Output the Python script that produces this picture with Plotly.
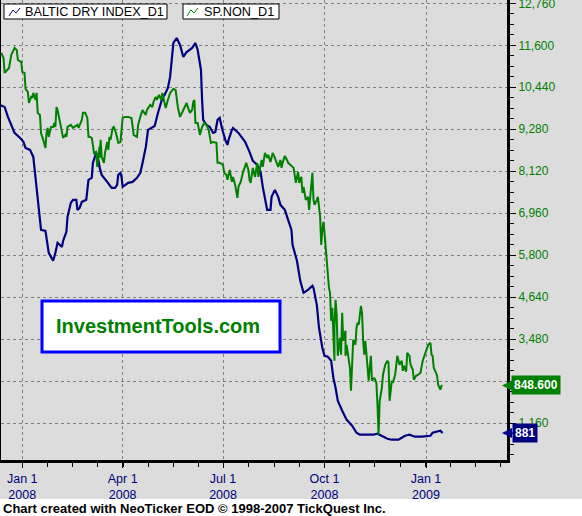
import pandas as pd
import plotly.graph_objects as go

BASE_DATE = "2008-01-01"

# Baltic Dry Index (day offset from BASE_DATE, index value)
bdi_days = [-20, -16, -13, -9, -7, -2, 1, 3, 7, 10, 11, 12, 14, 16, 17, 21, 22, 24, 26, 28,
            30, 32, 36, 37, 40, 41, 44, 46, 49, 50, 52, 54, 58, 60, 63, 64, 67, 69, 70, 72,
            77, 81, 84, 86, 87, 89, 90, 91, 96, 100, 104, 107, 109, 112, 114, 118, 120, 123, 127, 129,
            132, 134, 136, 137, 140, 143, 146, 149, 154, 157, 159, 162, 163, 164, 167, 170, 173, 175, 177, 179,
            181, 184, 186, 187, 190, 191, 196, 202, 206, 209, 213, 216, 218, 220, 222, 225, 226, 229, 232, 234,
            238, 241, 244, 245, 249, 252, 255, 259, 263, 264, 267, 269, 272, 274, 277, 280, 282, 284, 286, 290,
            294, 299, 303, 306, 313, 318, 322, 326, 331, 335, 341, 344, 347, 351, 356, 362, 370, 372, 376, 379,
            381]
bdi_values = [9950, 9896, 9620, 9316, 9178, 9040, 8930, 8764, 8709, 8515, 8239, 7797, 7328, 6858, 6499, 6471, 6278, 5864, 5753, 5643,
              5864, 6140, 6029, 6195, 6444, 6858, 7245, 7328, 7328, 7051, 7107, 7272, 7328, 7880, 7935, 8350, 8626, 8432, 8239, 8018,
              7825, 7659, 7659, 7742, 8018, 8073, 7963, 7687, 7797, 7825, 7935, 8073, 8350, 8791, 9261, 9344, 9371, 9730, 10145, 10228,
              10421, 10725, 11250, 11664, 11802, 11609, 11277, 11415, 11526, 11664, 11471, 10918, 10090, 9537, 9399, 9344, 9178, 9206, 9537, 9592,
              9316, 8985, 8847, 8985, 9261, 9316, 9178, 8930, 8653, 8405, 8294, 8101, 7687, 7328, 7051, 7051, 7410, 7604, 7410, 7190,
              7051, 6775, 6499, 6085, 5643, 5090, 4759, 4842, 4952, 4897, 4427, 3792, 3240, 3019, 2991, 2881, 2411, 2135, 1776, 1500,
              1251, 1085, 892, 837, 837, 837, 865, 809, 726, 699, 699, 754, 809, 837, 782, 782, 809, 892, 920, 947,
              881]

# SP.NON (day offset from BASE_DATE, value)
spn_days = [-19, -17, -16, -14, -12, -10, -8, -7, -5, -4, -1, 0, 2, 3, 5, 6, 8, 9, 10, 11,
            12, 13, 14, 16, 17, 19, 21, 22, 23, 24, 26, 28, 29, 30, 31, 32, 34, 36, 37, 39,
            40, 41, 44, 46, 50, 51, 54, 55, 57, 59, 60, 61, 63, 64, 65, 67, 68, 69, 70, 70,
            71, 72, 74, 75, 77, 78, 79, 80, 82, 83, 85, 87, 89, 90, 91, 93, 96, 99, 100, 101,
            104, 105, 107, 109, 110, 112, 113, 116, 118, 119, 121, 122, 124, 126, 127, 128, 130, 132, 134, 137,
            139, 141, 143, 146, 149, 150, 152, 154, 155, 156, 157, 159, 161, 163, 165, 167, 169, 171, 173, 176,
            177, 179, 182, 183, 185, 186, 188, 190, 191, 193, 195, 196, 198, 200, 203, 205, 206, 207, 209, 211,
            213, 214, 215, 217, 218, 220, 222, 223, 225, 227, 229, 231, 232, 234, 235, 236, 238, 240, 241, 245,
            246, 248, 250, 251, 253, 254, 255, 257, 259, 260, 262, 263, 264, 265, 267, 268, 270, 271, 272, 273,
            274, 275, 277, 278, 279, 280, 281, 282, 283, 283, 284, 285, 286, 288, 289, 290, 291, 293, 293, 294,
            296, 297, 298, 299, 300, 302, 303, 304, 305, 307, 308, 309, 310, 311, 312, 313, 314, 316, 317, 319,
            321, 322, 323, 324, 326, 327, 329, 331, 332, 333, 335, 336, 338, 340, 341, 342, 344, 345, 346, 348,
            349, 351, 352, 354, 355, 357, 359, 361, 363, 366, 368, 370, 371, 372, 373, 375, 376, 377, 379, 380,
            381]
spn_values = [4395, 4342, 4182, 4214, 4235, 4374, 4427, 4448, 4427, 4320, 4299, 4193, 4182, 4011, 3979, 3862, 3926, 3915, 3969, 3926,
              3894, 3969, 3756, 3734, 3542, 3468, 3382, 3542, 3596, 3500, 3606, 3606, 3649, 3606, 3819, 3787, 3649, 3521, 3489, 3521,
              3500, 3606, 3628, 3596, 3628, 3596, 3681, 3756, 3756, 3702, 3500, 3500, 3489, 3414, 3329, 3340, 3180, 3286, 3393, 3276,
              3468, 3286, 3223, 3329, 3446, 3361, 3500, 3468, 3596, 3606, 3542, 3436, 3446, 3574, 3702, 3713, 3713, 3702, 3628, 3521,
              3500, 3628, 3713, 3787, 3766, 3734, 3787, 3841, 3819, 3873, 3926, 3894, 3947, 3894, 3969, 3915, 3809, 3894, 3969, 4011,
              4001, 3819, 3713, 3787, 3862, 3819, 3756, 3787, 3873, 3894, 3649, 3649, 3521, 3606, 3649, 3628, 3574, 3436, 3446, 3436,
              3223, 3223, 3201, 3116, 3095, 3041, 3148, 3020, 3073, 2988, 2849, 2967, 3020, 3116, 3223, 3148, 3041, 3009, 3169, 3073,
              3223, 3073, 3148, 3254, 3180, 3329, 3276, 3308, 3233, 3329, 3276, 3223, 3180, 3254, 3169, 3223, 3297, 3254, 3223, 3180,
              3169, 3009, 3127, 3009, 3073, 2903, 2967, 2828, 2860, 2721, 2967, 3116, 2828, 2775, 2828, 2860, 2647, 2348, 2508, 2594,
              2476, 2316, 2103, 1890, 1837, 1538, 1677, 1389, 1112, 1464, 1762, 1602, 1165, 1357, 1176, 1624, 1325, 1432, 1165, 1282,
              1144, 1037, 792, 1037, 1336, 1282, 1464, 1517, 1496, 1698, 1624, 1325, 1176, 1325, 1176, 1112, 899, 1165, 899, 931,
              877, 643, 323, 685, 824, 963, 1069, 1112, 1091, 685, 899, 877, 963, 1165, 1112, 1069, 1112, 1005, 1059, 995,
              1197, 1165, 1069, 1016, 909, 952, 963, 984, 1112, 1218, 1282, 1304, 1176, 1165, 1037, 984, 952, 856, 803, 845,
              848.6]

tick_dates = ["2008-01-01", "2008-04-01", "2008-07-01", "2008-10-01", "2009-01-01"]
tick_text = ["Jan 1<br>2008", "Apr 1<br>2008", "Jul 1<br>2008", "Oct 1<br>2008", "Jan 1<br>2009"]

bdi_name = "BALTIC DRY INDEX_D1"
spn_name = "SP.NON_D1"
watermark = "InvestmentTools.com"
footer = "Chart created with NeoTicker EOD \u00a9 1998-2007 TickQuest Inc."

x_range = ["2007-12-12 17:00", "2009-03-15 10:00"]
bdi_range = [138, 12852]
spn_range = [53.3, 4960]

base = pd.Timestamp(BASE_DATE)
bdi_x = base + pd.to_timedelta(bdi_days, unit="D")
spn_x = base + pd.to_timedelta(spn_days, unit="D")

W, H = 582, 516
ML, MR, MT, MB = 1, 75, 0, 56
PW, PH = W - ML - MR, H - MT - MB


def px(x):
    return (x - ML) / PW


def py(y):
    return (MT + PH - y) / PH


NAVY = "#000080"
GREEN = "#008000"
BG = "#dcdcdc"
FONT = "Liberation Sans, Arial, sans-serif"

fig = go.Figure()
fig.add_trace(go.Scatter(x=bdi_x, y=bdi_values, mode="lines", name=bdi_name,
                         line=dict(color=NAVY, width=2.2), yaxis="y"))
fig.add_trace(go.Scatter(x=spn_x, y=spn_values, mode="lines", name=spn_name,
                         line=dict(color=GREEN, width=2), yaxis="y2"))

shapes = [
    # footer strip
    dict(type="rect", xref="paper", yref="paper", x0=px(0), x1=px(W), y0=py(H), y1=py(499),
         fillcolor="white", line=dict(width=0), layer="above"),
    # legend boxes
    dict(type="rect", xref="paper", yref="paper", x0=px(4), x1=px(167), y0=py(19), y1=py(4),
         fillcolor="white", line=dict(color="black", width=1), layer="above"),
    dict(type="rect", xref="paper", yref="paper", x0=px(183), x1=px(279), y0=py(19), y1=py(4),
         fillcolor="white", line=dict(color="black", width=1), layer="above"),
    # watermark box
    dict(type="rect", xref="paper", yref="paper", x0=px(42), x1=px(280), y0=py(352), y1=py(301),
         fillcolor="white", line=dict(color="#0000ff", width=3), layer="above"),
]


def icon(x0, color):
    pts = [(x0, 16), (x0 + 4, 10), (x0 + 7, 13), (x0 + 11, 8)]
    path = "M " + " L ".join(f"{px(a):.5f},{py(b):.5f}" for a, b in pts)
    return dict(type="path", xref="paper", yref="paper", path=path,
                line=dict(color=color, width=1), layer="above")


shapes.append(icon(9, NAVY))
shapes.append(icon(187, GREEN))

annotations = [
    dict(x=px(23), y=py(11.5), xref="paper", yref="paper", xanchor="left", yanchor="middle",
         text=bdi_name, showarrow=False, font=dict(family=FONT, size=12.7, color="black")),
    dict(x=px(202), y=py(11.5), xref="paper", yref="paper", xanchor="left", yanchor="middle",
         text=spn_name, showarrow=False, font=dict(family=FONT, size=12.7, color="black")),
    dict(x=px(54), y=py(326), xref="paper", yref="paper", xanchor="left", yanchor="middle",
         text=f"<b>{watermark}</b>", showarrow=False, font=dict(family=FONT, size=20, color=GREEN)),
    dict(x=px(1), y=py(508), xref="paper", yref="paper", xanchor="left", yanchor="middle",
         text=f"<b>{footer}</b>", showarrow=False, font=dict(family=FONT, size=13, color="black")),
    dict(x=px(502), xref="paper", y=spn_values[-1], yref="y2",
         text=f"<b>{spn_values[-1]:.3f}</b>", font=dict(family=FONT, size=12, color="white"),
         bgcolor=GREEN, borderpad=2, showarrow=True, arrowhead=2, arrowsize=1, arrowwidth=2,
         arrowcolor=GREEN, ax=34, ay=0, standoff=0),
    dict(x=px(502), xref="paper", y=bdi_values[-1], yref="y",
         text=f"<b>{bdi_values[-1]:,}</b>", font=dict(family=FONT, size=12, color="white"),
         bgcolor=NAVY, borderpad=2, showarrow=True, arrowhead=2, arrowsize=1, arrowwidth=2,
         arrowcolor=NAVY, ax=23, ay=0, standoff=0),
]

fig.update_layout(
    width=W, height=H,
    margin=dict(l=ML, r=MR, t=MT, b=MB, pad=0, autoexpand=False),
    paper_bgcolor=BG, plot_bgcolor=BG,
    showlegend=False,
    font=dict(family=FONT, size=12),
    xaxis=dict(type="date", range=x_range, automargin=False,
               tickmode="array", tickvals=tick_dates, ticktext=tick_text,
               ticks="outside", ticklen=5, tickwidth=1, tickcolor="black",
               tickfont=dict(color=NAVY, size=12.5),
               showgrid=True, gridcolor="#808080", griddash="3px,3px", gridwidth=1,
               showline=True, linecolor="black", linewidth=3, zeroline=False,
               minor=dict(tickmode="linear", tick0="2008-01-01", dtick=22.828 * 86400000,
                          ticks="outside", ticklen=4, tickcolor="black", showgrid=False)),
    yaxis=dict(side="right", range=bdi_range, automargin=False,
               tickmode="linear", tick0=0, dtick=1160, ticklabeloverflow="allow",
               tickformat=",d", ticks="outside", ticklen=6, tickcolor="black",
               tickfont=dict(color=GREEN, size=12),
               showgrid=True, gridcolor="#808080", griddash="3px,3px", gridwidth=1,
               showline=True, linecolor="black", linewidth=3, zeroline=False,
               minor=dict(dtick=290, ticks="outside", ticklen=4, tickcolor="black", showgrid=False)),
    yaxis2=dict(overlaying="y", side="left", range=spn_range, automargin=False, showgrid=False,
                showticklabels=False, ticks="", showline=True, linecolor="black",
                linewidth=2, zeroline=False),
    shapes=shapes,
    annotations=annotations,
)

fig.write_html("out.html", config={"displayModeBar": False},
               post_script="document.body.style.margin='0';document.body.style.background='white';")
